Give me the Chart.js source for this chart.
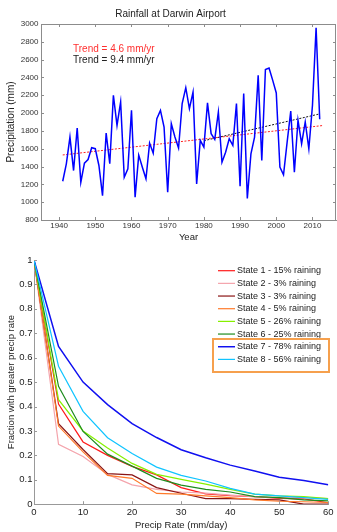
<!DOCTYPE html>
<html lang="en">
<head>
  <meta charset="UTF-8">
  <title>Rainfall at Darwin Airport</title>
  <script src="https://cdn.jsdelivr.net/npm/chart.js"></script>
  <style>
    html, body {
      margin: 0;
      padding: 0;
      background: #fff;
    }
    body {
      width: 337px;
      height: 532px;
      position: relative;
      overflow: hidden;
    }
    #rainChart { position: absolute; left: 0; top: 0; }
    #rateChart { position: absolute; left: 0; top: 245px; }
  </style>
</head>
<body>
  <canvas id="rainChart" width="337" height="245"></canvas>
  <canvas id="rateChart" width="337" height="287"></canvas>

  <script>
    // ---- top panel: annual rainfall ----
    const years = [1941, 1942, 1943, 1944, 1945, 1946, 1947, 1948, 1949, 1950,
      1951, 1952, 1953, 1954, 1955, 1956, 1957, 1958, 1959, 1960,
      1961, 1962, 1963, 1964, 1965, 1966, 1967, 1968, 1969, 1970,
      1971, 1972, 1973, 1974, 1975, 1976, 1977, 1978, 1979, 1980,
      1981, 1982, 1983, 1984, 1985, 1986, 1987, 1988, 1989, 1990,
      1991, 1992, 1993, 1994, 1995, 1996, 1997, 1998, 1999, 2000,
      2001, 2002, 2003, 2004, 2005, 2006, 2007, 2008, 2009, 2010,
      2011, 2012];
    const rainfall = [1235, 1431, 1731, 1355, 1832, 1224, 1438, 1479, 1611, 1600,
      1412, 1074, 1776, 1431, 2200, 1862, 2125, 1280, 1374, 2031,
      1055, 1528, 1393, 1262, 1663, 1550, 1938, 2031, 1843, 1111,
      1881, 1731, 1607, 2107, 2285, 2050, 2235, 1205, 1693, 1618,
      2115, 1769, 1705, 2012, 1449, 1561, 1712, 1637, 2106, 1178,
      2219, 1043, 1543, 1731, 2425, 1468, 2490, 2505, 2370, 2226,
      1393, 1307, 1674, 2023, 1336, 1919, 1656, 1900, 1600, 2088,
      2958, 1930];
    const redTrendYears = [1941, 2013];
    const redTrendValues = [1530, 1861];
    const blackTrendYears = [1980, 2012];
    const blackTrendValues = [1690, 1991];
    const yearTicks = [1940, 1950, 1960, 1970, 1980, 1990, 2000, 2010];
    const rainTicks = [800, 1000, 1200, 1400, 1600, 1800, 2000, 2200, 2400, 2600, 2800, 3000];
    const trendNotes = ['Trend = 4.6 mm/yr', 'Trend = 9.4 mm/yr'];

    // ---- bottom panel: exceedance fraction by state ----
    const precipRates = [0, 5, 10, 15, 20, 25, 30, 35, 40, 45, 50, 55, 60];
    const stateLabels = ['State 1 - 15% raining', 'State 2 - 3% raining', 'State 3 - 3% raining',
      'State 4 - 5% raining', 'State 5 - 26% raining', 'State 6 - 25% raining',
      'State 7 - 78% raining', 'State 8 - 56% raining'];
    const state1 = [1, 0.41, 0.255, 0.200, 0.155, 0.120, 0.068, 0.042, 0.035, 0.031, 0.024, 0.022, 0.006];
    const state2 = [1, 0.245, 0.195, 0.122, 0.079, 0.061, 0.050, 0.045, 0.037, 0.031, 0.027, 0.027, 0.023];
    const state3 = [1, 0.330, 0.224, 0.125, 0.120, 0.068, 0.045, 0.023, 0.023, 0.020, 0.018, 0.000, 0.000];
    const state4 = [1, 0.320, 0.214, 0.118, 0.106, 0.044, 0.041, 0.034, 0.027, 0.018, 0.012, 0.010, 0.007];
    const state5 = [1, 0.428, 0.300, 0.230, 0.167, 0.122, 0.102, 0.082, 0.061, 0.041, 0.034, 0.031, 0.023];
    const state6 = [1, 0.483, 0.298, 0.205, 0.156, 0.106, 0.078, 0.061, 0.050, 0.031, 0.027, 0.018, 0.014];
    const state7 = [1, 0.646, 0.500, 0.408, 0.330, 0.273, 0.223, 0.190, 0.160, 0.136, 0.110, 0.097, 0.080];
    const state8 = [1, 0.565, 0.380, 0.272, 0.208, 0.152, 0.118, 0.095, 0.065, 0.041, 0.034, 0.027, 0.020];
    const rateTicks = [0, 10, 20, 30, 40, 50, 60];
    const fractionTicks = [0, 0.1, 0.2, 0.3, 0.4, 0.5, 0.6, 0.7, 0.8, 0.9, 1];

    const stateColors = ['#ff1a1a', '#f4a4ac', '#8a1414', '#ff7a2a', '#86f000', '#1e8c1e', '#1010f0', '#10c4ff'];
    const font = '"Liberation Sans", Arial, sans-serif';

    const pts = (xs, ys) => ys.map((v, i) => ({ x: xs[i], y: v }));

    // MATLAB style ticks pointing into the plot
    const innerTicks = {
      id: 'innerTicks',
      afterDatasetsDraw(chart, args, opts) {
        const { ctx, chartArea: a } = chart;
        const xs = chart.scales.x, ys = chart.scales.y;
        const len = opts.length;
        ctx.save();
        ctx.strokeStyle = opts.color;
        ctx.lineWidth = 1;
        ctx.beginPath();
        xs.ticks.forEach(t => {
          const px = Math.round(xs.getPixelForValue(t.value)) + 0.5;
          ctx.moveTo(px, a.bottom);
          ctx.lineTo(px, a.bottom - len);
          if (opts.box) {
            ctx.moveTo(px, a.top);
            ctx.lineTo(px, a.top + len);
          }
        });
        ys.ticks.forEach(t => {
          const py = Math.round(ys.getPixelForValue(t.value)) + 0.5;
          ctx.moveTo(a.left, py);
          ctx.lineTo(a.left + len, py);
          if (opts.box) {
            ctx.moveTo(a.right, py);
            ctx.lineTo(a.right - len, py);
          }
        });
        if (opts.box) {
          ctx.moveTo(a.left, a.top + 0.5);
          ctx.lineTo(a.right, a.top + 0.5);
          ctx.moveTo(a.right - 0.5, a.top);
          ctx.lineTo(a.right - 0.5, a.bottom);
        }
        ctx.stroke();
        ctx.restore();
      }
    };

    // trend text in the top panel
    const trendText = {
      id: 'trendText',
      afterDraw(chart) {
        const ctx = chart.ctx;
        ctx.save();
        ctx.font = '10px ' + font;
        ctx.textBaseline = 'middle';
        ctx.fillStyle = '#ff3030';
        ctx.fillText(trendNotes[0], 73, 49);
        ctx.fillStyle = '#222';
        ctx.fillText(trendNotes[1], 73, 60);
        ctx.restore();
      }
    };

    // legend drawn inside the plot, plus the orange highlight box
    const stateLegend = {
      id: 'stateLegend',
      afterDraw(chart) {
        const ctx = chart.ctx;
        ctx.save();
        ctx.font = '9px ' + font;
        ctx.textBaseline = 'middle';
        chart.data.datasets.forEach((ds, i) => {
          const y = 25.7 + i * 12.67;
          ctx.strokeStyle = ds.borderColor;
          ctx.lineWidth = ds.borderWidth;
          ctx.beginPath();
          ctx.moveTo(218, y);
          ctx.lineTo(235, y);
          ctx.stroke();
          ctx.fillStyle = '#222';
          ctx.fillText(ds.label, 237, y);
        });
        ctx.strokeStyle = '#f6a04d';
        ctx.lineWidth = 2;
        ctx.strokeRect(213, 94, 116, 33);
        ctx.restore();
      }
    };

    new Chart(document.getElementById('rainChart'), {
      type: 'line',
      data: {
        datasets: [
          {
            data: pts(years, rainfall),
            borderColor: '#0000ff',
            borderWidth: 1.5,
            pointRadius: 0,
            tension: 0
          },
          {
            data: pts(redTrendYears, redTrendValues),
            borderColor: '#ff2020',
            borderWidth: 1,
            borderDash: [2, 1.5],
            pointRadius: 0
          },
          {
            data: pts(blackTrendYears, blackTrendValues),
            borderColor: '#111',
            borderWidth: 1,
            borderDash: [2, 1.5],
            pointRadius: 0
          }
        ]
      },
      options: {
        responsive: false,
        animation: false,
        layout: { padding: { left: 5, right: 1, bottom: 2, top: 0 } },
        plugins: {
          legend: { display: false },
          tooltip: { enabled: false },
          title: {
            display: true,
            text: 'Rainfall at Darwin Airport',
            color: '#222',
            font: { family: font, size: 10, weight: 'normal' },
            padding: { top: 8, bottom: 4 }
          },
          innerTicks: { color: '#8c8c8c', length: 3, box: true }
        },
        scales: {
          x: {
            type: 'linear',
            min: 1935,
            max: 2016.5,
            afterBuildTicks: s => { s.ticks = yearTicks.map(v => ({ value: v })); },
            grid: { display: true, drawOnChartArea: false, drawTicks: false },
            border: { color: '#8c8c8c' },
            ticks: {
              color: '#333',
              font: { family: font, size: 8 },
              padding: 1,
              maxRotation: 0,
              callback: v => String(v)
            },
            title: {
              display: true,
              text: 'Year',
              color: '#222',
              font: { family: font, size: 9.5 },
              padding: { top: 0, bottom: 0 }
            }
          },
          y: {
            min: 800,
            max: 3000,
            afterBuildTicks: s => { s.ticks = rainTicks.map(v => ({ value: v })); },
            afterFit: s => { s.width = 36; },
            grid: { display: true, drawOnChartArea: false, drawTicks: false },
            border: { color: '#8c8c8c' },
            ticks: {
              color: '#333',
              font: { family: font, size: 8 },
              padding: 2.5,
              callback: v => String(v)
            },
            title: {
              display: true,
              text: 'Precipitation (mm)',
              color: '#222',
              font: { family: font, size: 10 },
              padding: { top: 0, bottom: 0 }
            }
          }
        }
      },
      plugins: [innerTicks, trendText]
    });

    const stateSeries = [state1, state2, state3, state4, state5, state6, state7, state8];

    new Chart(document.getElementById('rateChart'), {
      type: 'line',
      data: {
        datasets: stateSeries.map((vals, i) => ({
          label: stateLabels[i],
          data: pts(precipRates, vals),
          borderColor: stateColors[i],
          borderWidth: i === 6 ? 1.5 : 1.2,
          pointRadius: 0,
          tension: 0,
          order: 8 - i
        }))
      },
      options: {
        responsive: false,
        animation: false,
        layout: { padding: { left: 4, right: 8.7, top: 15, bottom: 1 } },
        plugins: {
          legend: { display: false },
          tooltip: { enabled: false },
          innerTicks: { color: '#999', length: 3, box: false }
        },
        scales: {
          x: {
            type: 'linear',
            min: 0,
            max: 60,
            afterBuildTicks: s => { s.ticks = rateTicks.map(v => ({ value: v })); },
            grid: { display: true, drawOnChartArea: false, drawTicks: false },
            border: { color: '#999' },
            ticks: {
              color: '#222',
              font: { family: font, size: 9.5 },
              padding: 2,
              maxRotation: 0,
              callback: v => String(v)
            },
            title: {
              display: true,
              text: 'Precip Rate (mm/day)',
              color: '#222',
              font: { family: font, size: 9.5 },
              padding: { top: 0, bottom: 0 }
            }
          },
          y: {
            min: 0,
            max: 1,
            afterBuildTicks: s => { s.ticks = fractionTicks.map(v => ({ value: v })); },
            afterFit: s => { s.width = 30; },
            grid: { display: true, drawOnChartArea: false, drawTicks: false },
            border: { color: '#999' },
            ticks: {
              color: '#222',
              font: { family: font, size: 9.5 },
              padding: 1.5,
              callback: v => String(v)
            },
            title: {
              display: true,
              text: 'Fraction with greater precip rate',
              color: '#222',
              font: { family: font, size: 9.5 },
              padding: { top: 2, bottom: 0 }
            }
          }
        }
      },
      plugins: [innerTicks, stateLegend]
    });
  </script>
</body>
</html>
